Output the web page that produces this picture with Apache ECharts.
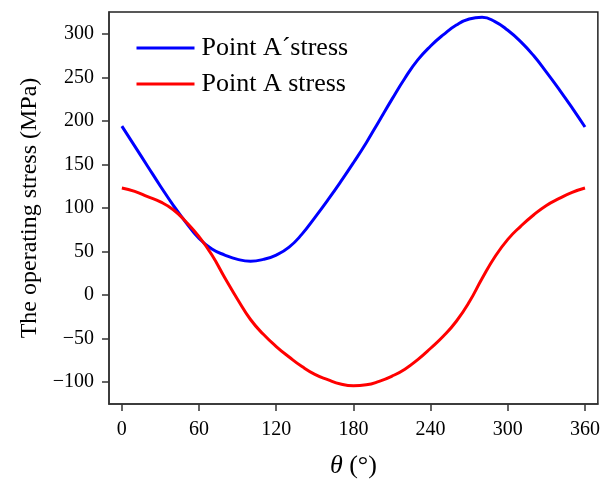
<!DOCTYPE html>
<html>
<head>
<meta charset="utf-8">
<script src="https://cdn.jsdelivr.net/npm/echarts@6/dist/echarts.min.js"></script>
<style>
html,body{margin:0;padding:0;background:#fff;}
#c{width:603px;height:484px;}
</style>
</head>
<body>
<div id="c"></div>
<script>
var theta = [0,10,20,30,40,50,60,70,80,90,100,110,120,130,140,150,160,170,180,190,200,210,220,230,240,250,260,270,280,290,300,310,320,330,340,350,360];
var pointAPrime = [194,171,148,125,103,83,65,53,46,41,39,41,46,55,70,89,109,130,152,175,200,225,249,270,286,299,310,317,319,314,304,291,275,256,236,215,193];
var pointA = [123,119,113,107,98,84,67,46,20,-5,-28,-45,-59,-71,-82,-91,-97,-102,-104,-103,-99,-93,-85,-74,-61,-47,-30,-8,19,44,64,79,92,103,111,118,123];
var xTicks = [0,60,120,180,240,300,360];
var yTicks = [-100,-50,0,50,100,150,200,250,300];
var seriesNames = ['Point A\u00B4stress','Point A stress'];

function pairs(xs, ys){ return xs.map(function(x,i){ return [x, ys[i]]; }); }

var font = 'Liberation Serif, Times New Roman, serif';
var chart = echarts.init(document.getElementById('c'), null, {renderer:'canvas'});
chart.setOption({
  animation:false,
  backgroundColor:'#fff',
  textStyle:{fontFamily:font},
  grid:{left:109, right:3, top:12, bottom:78, show:true, borderColor:'#222', borderWidth:1.5, backgroundColor:'transparent'},
  legend:{
    left:135, top:35, orient:'vertical', padding:0,
    itemWidth:58, itemHeight:22, itemGap:10,
    itemStyle:{opacity:0},
    lineStyle:{width:3},
    textStyle:{fontFamily:font, fontSize:26, color:'#000', padding:[0,0,0,2]},
    data:seriesNames
  },
  xAxis:{
    type:'value', min:-10, max:370,
    axisLine:{show:true, onZero:false, lineStyle:{color:'#333', width:1.5}},
    axisTick:{show:true, inside:false, length:7, customValues:xTicks, lineStyle:{color:'#333', width:1.5}},
    axisLabel:{customValues:xTicks, fontFamily:font, fontSize:20, color:'#000', margin:16},
    splitLine:{show:false},
    name:'{i|\u03B8} (\u00B0)', nameLocation:'middle', nameGap:49,
    nameTextStyle:{fontFamily:font, fontSize:26, color:'#000', rich:{i:{fontFamily:font, fontStyle:'italic', fontSize:26, color:'#000'}}}
  },
  yAxis:{
    type:'value', min:-125, max:325,
    axisLine:{show:true, onZero:false, lineStyle:{color:'#333', width:1.5}},
    axisTick:{show:true, inside:false, length:7, customValues:yTicks, lineStyle:{color:'#333', width:1.5}},
    axisLabel:{customValues:yTicks, fontFamily:font, fontSize:20, color:'#000', margin:15,
      formatter:function(v){ return v < 0 ? '\u2212' + Math.abs(v) : String(v); }},
    splitLine:{show:false},
    name:'The operating stress (MPa)', nameLocation:'middle', nameGap:67, nameRotate:90,
    nameTextStyle:{fontFamily:font, fontSize:24, color:'#000'}
  },
  series:[
    {name:seriesNames[0], type:'line', data:pairs(theta, pointAPrime), smooth:0.5, symbol:'none', showSymbol:false,
     lineStyle:{color:'#0000FF', width:3}, itemStyle:{color:'#0000FF'}},
    {name:seriesNames[1], type:'line', data:pairs(theta, pointA), smooth:0.5, symbol:'none', showSymbol:false,
     lineStyle:{color:'#FF0000', width:3}, itemStyle:{color:'#FF0000'}}
  ]
});
</script>
</body>
</html>
